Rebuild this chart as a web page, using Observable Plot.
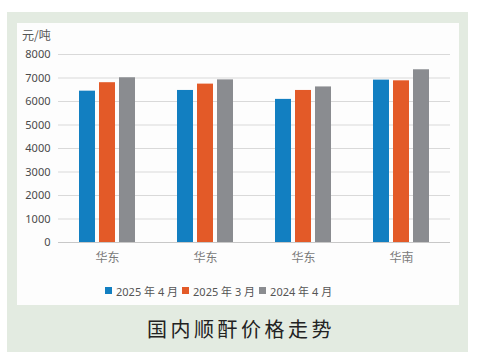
<!DOCTYPE html>
<html>
<head>
<meta charset="utf-8">
<script src="https://cdn.jsdelivr.net/npm/d3@7"></script>
<script src="https://cdn.jsdelivr.net/npm/@observablehq/plot@0.6"></script>
<style>
  html, body { margin: 0; padding: 0; background: #ffffff; }
  body { width: 482px; height: 359px; position: relative; overflow: hidden;
         font-family: "Noto Sans", "Noto Sans CJK SC", sans-serif; }
  #outer { position: absolute; left: 7px; top: 12px; width: 461px; height: 340px; background: #e3ebe1; }
  #inner { position: absolute; left: 17px; top: 23px; width: 442px; height: 282px; background: #fdfdfd; }
  #chart { position: absolute; left: 0; top: 0; }
  #unit { position: absolute; left: 5px; top: 3px; font-size: 12px; color: #555; font-family: "Noto Sans CJK SC", sans-serif; }
  #legend { position: absolute; left: 88px; top: 259px; font-size: 11px; color: #555;
            font-family: "Noto Sans", "Noto Sans CJK SC", sans-serif; white-space: nowrap; }
  #legend span.item { display: inline-flex; align-items: center; margin-right: 4px; }
  #legend span.sw { display: inline-block; width: 7px; height: 7px; margin-right: 4px; }
  #title { position: absolute; left: 0; width: 482px; top: 314px; text-align: center; font-size: 20px; color: #222;
           letter-spacing: 3.5px; font-family: "Noto Sans CJK SC", sans-serif; }
</style>
</head>
<body>
<div id="outer"></div>
<div id="inner">
  <div id="chart"></div>
  <div id="unit">元/吨</div>
  <div id="legend"></div>
</div>
<div id="title">国内顺酐价格走势</div>
<script>
const regions = ["华东", "华东", "华东", "华南"];
const series = ["2025 年 4 月", "2025 年 3 月", "2024 年 4 月"];
const apr2025 = [6440, 6470, 6090, 6910];
const mar2025 = [6800, 6740, 6470, 6880];
const apr2024 = [7010, 6920, 6620, 7350];
const yTicks = [0, 1000, 2000, 3000, 4000, 5000, 6000, 7000, 8000];
const colors = ["#127fc1", "#e35a28", "#8a8c90"];

const seriesValues = [apr2025, mar2025, apr2024];
const data = [];
regions.forEach((r, i) => {
  series.forEach((s, j) => data.push({ g: i, s, v: seriesValues[j][i] }));
});

const chart = Plot.plot({
  width: 442,
  height: 250,
  marginTop: 31,
  marginBottom: 31,
  marginLeft: 40,
  marginRight: 9,
  style: { background: "transparent", fontFamily: "'Noto Sans', 'Noto Sans CJK SC', sans-serif", fontSize: "11px", color: "#4a4a4a" },
  fx: { domain: [0, 1, 2, 3], padding: 0, axis: "bottom", tickFormat: i => regions[i], tickSize: 0, tickPadding: 11, label: null },
  x: { domain: series, paddingInner: 0.205, paddingOuter: 0.96, axis: null },
  y: { domain: [0, 8000], ticks: yTicks, tickSize: 0, tickPadding: 8, label: null, tickFormat: d => String(d) },
  color: { domain: series, range: colors },
  marks: [
    Plot.gridY(yTicks, { stroke: "#d9d9d9", strokeOpacity: 1 }),
    Plot.ruleY([0], { stroke: "#c8c8c8" }),
    Plot.barY(data, { fx: "g", x: "s", y: "v", fill: "s" })
  ]
});
document.getElementById("chart").appendChild(chart);

chart.querySelectorAll("[aria-label='fx-axis tick label'] text, [aria-label='fx-axis'] text").forEach(t => {
  t.setAttribute("fill", "#7a7a7a");
  t.style.fontSize = "12px";
  t.style.fontFamily = "'Noto Sans CJK SC', sans-serif";
});

const legend = document.getElementById("legend");
series.forEach((s, j) => {
  const item = document.createElement("span");
  item.className = "item";
  const sw = document.createElement("span");
  sw.className = "sw";
  sw.style.background = colors[j];
  item.appendChild(sw);
  item.appendChild(document.createTextNode(s));
  legend.appendChild(item);
});
</script>
</body>
</html>
